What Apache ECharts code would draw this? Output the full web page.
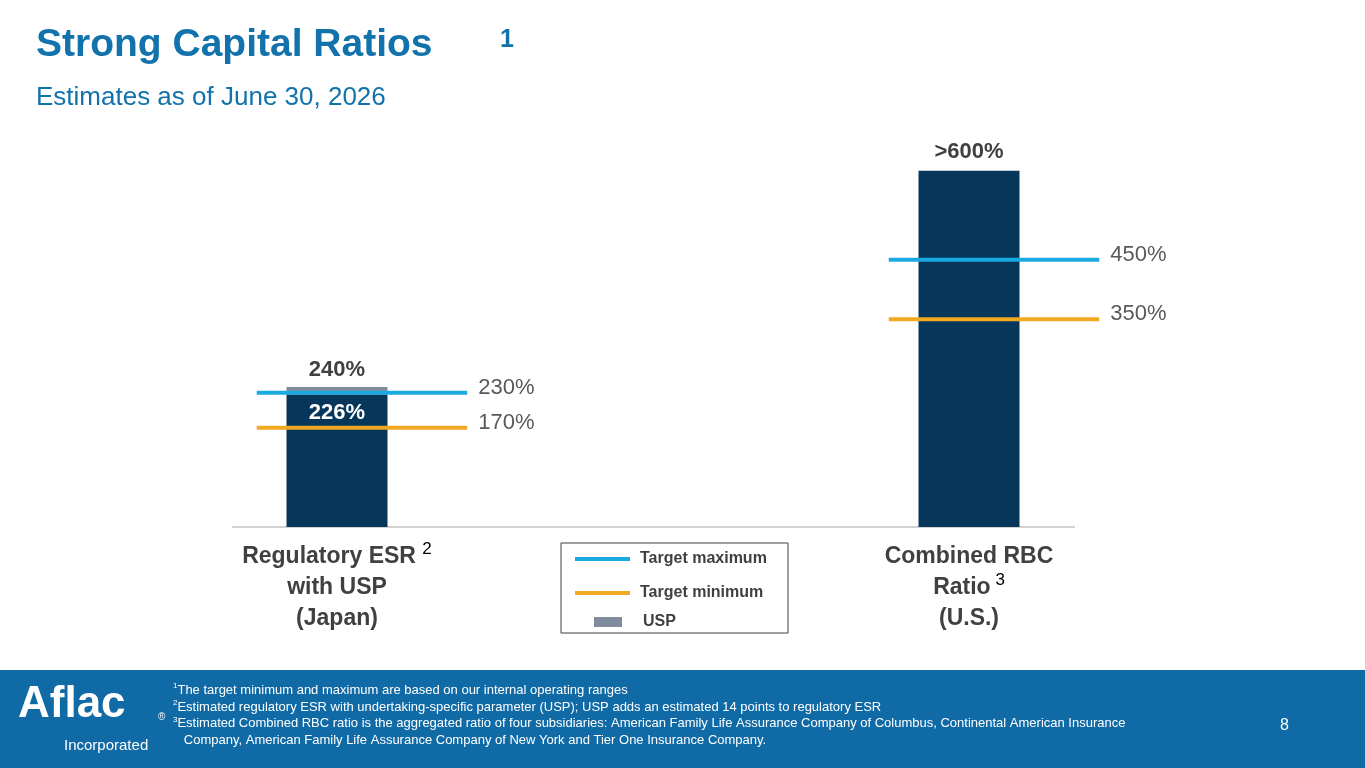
<!DOCTYPE html>
<html><head><meta charset="utf-8">
<script src="https://cdn.jsdelivr.net/npm/echarts@6/dist/echarts.min.js"></script>
<style>html,body{margin:0;padding:0;background:#fff}#c{width:1365px;height:768px}</style>
</head><body><div id="c"></div>
<script>
const categories = ['Regulatory ESR', 'Combined RBC'];
const esrBase = [226, '-'];
const usp = [14, '-'];
const rbc = ['-', 600];
const targetMax = [[0, 230], [1, 450]];
const targetMin = [[0, 170], [1, 350]];

const DARK = '#06375a', CYAN = '#1aa9e0', ORANGE = '#f2a922', GRAYBAR = '#7f8c9b', TXT = '#404040', BLUE = '#1272ab';
const F = 'Arial, "Liberation Sans", sans-serif';

function targetRender(color) {
  return function (params, api) {
    const c = api.coord([api.value(0), api.value(1)]);
    const bw = api.size([1, 0])[0];
    const x1 = c[0] - 0.127 * bw, x2 = c[0] + 0.206 * bw;
    return {
      type: 'group', children: [
        { type: 'line', shape: { x1: x1, y1: c[1], x2: x2, y2: c[1] }, style: { stroke: color, lineWidth: 4 } },
        { type: 'text', x: x2 + 11, y: c[1] - 5, style: { text: api.value(1) + '%', fill: '#595959', font: '22px ' + F, textVerticalAlign: 'middle' } }
      ]
    };
  };
}
function tSeries(name, color, pt, yi) {
  return { type: 'custom', name: name, yAxisIndex: yi, data: [pt], renderItem: targetRender(color), z: 5 };
}

const chart = echarts.init(document.getElementById('c'));
chart.setOption({
  animation: false,
  grid: { left: 21, right: 80, top: 150, bottom: 241 },
  xAxis: {
    type: 'category', data: categories,
    axisLine: { show: false }, axisTick: { show: false },
    axisLabel: {
      margin: 14, interval: 0, lineHeight: 31,
      formatter: function (v, i) {
        return i === 0 ? '{b|Regulatory ESR }{s|2}\n{b|with USP}\n{b|(Japan)}'
                       : '{b|Combined RBC}\n{b|Ratio}{s| 3}\n{b|(U.S.)}';
      },
      rich: {
        b: { fontFamily: F, fontSize: 23, fontWeight: 'bold', color: TXT, lineHeight: 31 },
        s: { fontFamily: F, fontSize: 17, color: '#000', verticalAlign: 'top', lineHeight: 20 }
      }
    }
  },
  yAxis: [
    { type: 'value', min: 0, max: 646, show: false },
    { type: 'value', min: 0, max: 635, show: false }
  ],
  series: [
    { type: 'bar', name: 'ESR', stack: 'a', yAxisIndex: 0, data: esrBase, barWidth: 101, barGap: '-100%',
      itemStyle: { color: DARK },
      label: { show: true, position: 'insideTop', distance: 7, formatter: '{c}%', color: '#fff', fontFamily: F, fontSize: 22, fontWeight: 'bold' } },
    { type: 'bar', name: 'USP', stack: 'a', yAxisIndex: 0, data: usp, barWidth: 101, itemStyle: { color: GRAYBAR },
      label: { show: true, position: 'top', distance: 6, color: TXT, fontFamily: F, fontSize: 22, fontWeight: 'bold',
        formatter: function (p) { return (esrBase[p.dataIndex] + p.value) + '%'; } } },
    { type: 'bar', name: 'RBC', yAxisIndex: 1, data: rbc, barWidth: 101, barGap: '-100%', itemStyle: { color: DARK },
      label: { show: true, position: 'top', distance: 8, formatter: '>{c}%', color: TXT, fontFamily: F, fontSize: 22, fontWeight: 'bold' } },
    tSeries('Target maximum', CYAN, targetMax[0], 0),
    tSeries('Target maximum', CYAN, targetMax[1], 1),
    tSeries('Target minimum', ORANGE, targetMin[0], 0),
    tSeries('Target minimum', ORANGE, targetMin[1], 1)
  ],
  graphic: [
    { type: 'line', shape: { x1: 232, y1: 527, x2: 1075, y2: 527 }, style: { stroke: '#a6a6a6', lineWidth: 1 } },
    { type: 'text', left: 36, top: 26, style: { text: 'Strong Capital Ratios', font: 'bold 39px ' + F, fill: BLUE } },
    { type: 'text', left: 500, top: 28, style: { text: '1', font: 'bold 25px ' + F, fill: BLUE } },
    { type: 'text', left: 36, top: 85, style: { text: 'Estimates as of June 30, 2026', font: '26px ' + F, fill: BLUE } },
    // legend box
    { type: 'rect', shape: { x: 561, y: 543, width: 227, height: 90 }, style: { fill: '#fff', stroke: '#404040', lineWidth: 1 } },
    { type: 'line', shape: { x1: 575, y1: 559, x2: 630, y2: 559 }, style: { stroke: CYAN, lineWidth: 4 } },
    { type: 'text', left: 640, top: 551, style: { text: 'Target maximum', font: 'bold 16px ' + F, fill: TXT } },
    { type: 'line', shape: { x1: 575, y1: 593, x2: 630, y2: 593 }, style: { stroke: ORANGE, lineWidth: 4 } },
    { type: 'text', left: 640, top: 585, style: { text: 'Target minimum', font: 'bold 16px ' + F, fill: TXT } },
    { type: 'rect', shape: { x: 594, y: 617, width: 28, height: 10 }, style: { fill: GRAYBAR } },
    { type: 'text', left: 643, top: 614, style: { text: 'USP', font: 'bold 16px ' + F, fill: TXT } },
    // footer
    { type: 'rect', shape: { x: 0, y: 670, width: 1365, height: 98 }, style: { fill: '#0f6aa6' } },
    { type: 'text', left: 18, top: 683, style: { text: 'Aflac', font: 'bold 44px ' + F, fill: '#fff' } },
    { type: 'text', left: 158, top: 712, style: { text: '®', font: '10px ' + F, fill: '#fff' } },
    { type: 'text', left: 64, top: 738, style: { text: 'Incorporated', font: '15px ' + F, fill: '#fff' } },
    { type: 'text', left: 173, top: 682, style: { text: '{s|1}The target minimum and maximum are based on our internal operating ranges\n{s|2}Estimated regulatory ESR with undertaking-specific parameter (USP); USP adds an estimated 14 points to regulatory ESR\n{s|3}Estimated Combined RBC ratio is the aggregated ratio of four subsidiaries: American Family Life Assurance Company of Columbus, Continental American Insurance\n   Company, American Family Life Assurance Company of New York and Tier One Insurance Company.',
      font: '13px ' + F, fill: '#fff', lineHeight: 16.7, rich: { s: { fontSize: 8, verticalAlign: 'top', fill: '#fff' } } } },
    { type: 'text', left: 1280, top: 718, style: { text: '8', font: '16px ' + F, fill: '#fff' } }
  ]
});
</script></body></html>
